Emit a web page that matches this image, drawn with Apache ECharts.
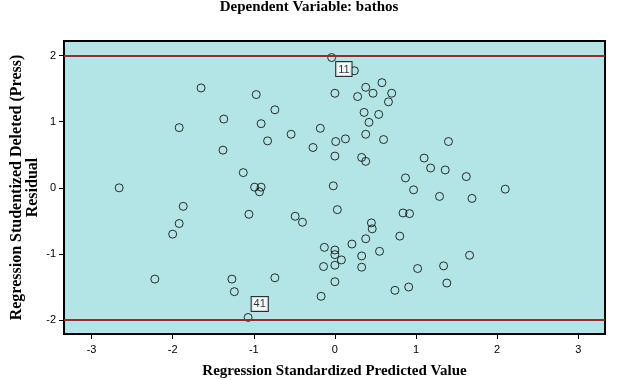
<!DOCTYPE html>
<html>
<head>
<meta charset="utf-8">
<script src="https://cdn.jsdelivr.net/npm/echarts@6/dist/echarts.min.js"></script>
<style>html,body{margin:0;padding:0;background:#fff}#c{width:637px;height:380px}</style>
</head>
<body>
<div id="c"></div>
<script>
const chartTitle = 'Dependent Variable: bathos';
const xName = 'Regression Standardized Predicted Value';
const yName = 'Regression Studentized Deleted (Press)\nResidual';
const xTicks = [-3, -2, -1, 0, 1, 2, 3];
const yTicks = [-2, -1, 0, 1, 2];
const refLines = [2, -2];
const predicted = [
  -2.66, -2.22, -2.00, -1.92, -1.87, -1.92, -1.65, -1.37, -1.38, -1.13,
  -1.27, -1.24, -1.06, -1.07, -0.99, -0.91, -0.93, -0.97, -0.91, -0.83,
  -0.74, -0.74, -0.54, -0.49, -0.40, -0.27, -0.18, -0.17, -0.14, -0.13,
  -0.04, -0.02, 0.00, 0.01, 0.00, 0.03, 0.00, 0.00, 0.00, 0.00,
  0.08, 0.13, 0.24, 0.28, 0.33, 0.38, 0.33, 0.33, 0.36, 0.38,
  0.38, 0.38, 0.42, 0.45, 0.46, 0.47, 0.54, 0.55, 0.58, 0.60,
  0.66, 0.70, 0.21, 0.74, 0.80, 0.84, 0.92, 0.87, 0.91, 0.97,
  1.02, 1.10, 1.18, 1.29, 1.34, 1.36, 1.38, 1.40, 1.62, 1.66,
  1.69, 2.10
];
const residual = [
  0.00, -1.38, -0.70, -0.54, -0.28, 0.91, 1.51, 1.04, 0.57, 0.23,
  -1.38, -1.57, -0.40, -1.96, 0.01, 0.01, -0.06, 1.41, 0.97, 0.71,
  1.18, -1.36, 0.81, -0.43, -0.52, 0.61, 0.90, -1.64, -1.19, -0.90,
  1.97, 0.03, 1.43, 0.70, 0.48, -0.33, -0.94, -1.01, -1.17, -1.42,
  -1.09, 0.74, 1.77, 1.38, 0.46, 0.40, -1.03, -1.20, 1.14, 1.52,
  0.81, -0.77, 0.99, -0.53, -0.62, 1.43, 1.11, -0.96, 1.59, 0.73,
  1.30, 1.43, -0.85, -1.55, -0.73, -0.38, -0.39, 0.15, -1.50, -0.03,
  -1.22, 0.45, 0.30, -0.13, -1.18, 0.27, -1.44, 0.70, 0.17, -1.02,
  -0.16, -0.02
];
const caseLabels = [{ index: 30, text: '11' }, { index: 13, text: '41' }];

const labelOffsets = { '11': [9, 9], '41': [8, -16] };
const data = predicted.map((x, i) => {
  const item = { value: [x, residual[i]] };
  const lab = caseLabels.find(c => c.index === i);
  if (lab) {
    item.label = {
      show: true,
      formatter: lab.text,
      position: labelOffsets[lab.text],
      backgroundColor: '#fff',
      borderColor: '#000',
      borderWidth: 1,
      padding: [2, 2, 1, 2],
      color: '#000',
      fontFamily: 'Liberation Sans, Arial, sans-serif',
      fontSize: 11
    };
  }
  return item;
});

const chart = echarts.init(document.getElementById('c'), null, { renderer: 'canvas' });
chart.setOption({
  animation: false,
  backgroundColor: '#fff',
  title: {
    text: chartTitle,
    left: 304,
    textAlign: 'center',
    top: -5,
    textStyle: { fontFamily: 'Liberation Serif, Times New Roman, serif', fontWeight: 'bold', fontSize: 15, color: '#000' }
  },
  grid: {
    left: 64, right: 32, top: 41, bottom: 46,
    outerBoundsMode: 'none', containLabel: false,
    show: true, backgroundColor: '#b3e5e7', borderColor: '#000', borderWidth: 2
  },
  xAxis: {
    type: 'value', min: -3.34, max: 3.33,
    name: xName, nameLocation: 'middle', nameGap: 30, nameMoveOverlap: false,
    nameTextStyle: { fontFamily: 'Liberation Serif, Times New Roman, serif', fontWeight: 'bold', fontSize: 15, color: '#000' },
    axisLine: { show: false, onZero: false },
    splitLine: { show: false },
    axisTick: { show: true, length: 5, customValues: xTicks, lineStyle: { color: '#000' } },
    axisLabel: { customValues: xTicks, margin: 10, fontFamily: 'Liberation Sans, Arial, sans-serif', fontSize: 11, color: '#000' }
  },
  yAxis: {
    type: 'value', min: -2.21, max: 2.22,
    name: yName, nameLocation: 'middle', nameGap: 23, nameRotate: 90, nameMoveOverlap: false,
    nameTextStyle: { fontFamily: 'Liberation Serif, Times New Roman, serif', fontWeight: 'bold', fontSize: 16, color: '#000', lineHeight: 16, align: 'center' },
    axisLine: { show: false, onZero: false },
    splitLine: { show: false },
    axisTick: { show: true, length: 5, customValues: yTicks, lineStyle: { color: '#000' } },
    axisLabel: { customValues: yTicks, margin: 8, fontFamily: 'Liberation Sans, Arial, sans-serif', fontSize: 11, color: '#000' }
  },
  series: [{
    type: 'scatter',
    data: data,
    symbol: 'circle',
    symbolSize: 8,
    itemStyle: { color: 'rgba(0,0,0,0)', borderColor: '#000', borderWidth: 1 },
    z: 3,
    markLine: {
      silent: true,
      symbol: 'none',
      label: { show: false },
      lineStyle: { color: '#962d2a', width: 2, type: 'solid' },
      data: refLines.map(v => ({ yAxis: v }))
    }
  }]
});
</script>
</body>
</html>
